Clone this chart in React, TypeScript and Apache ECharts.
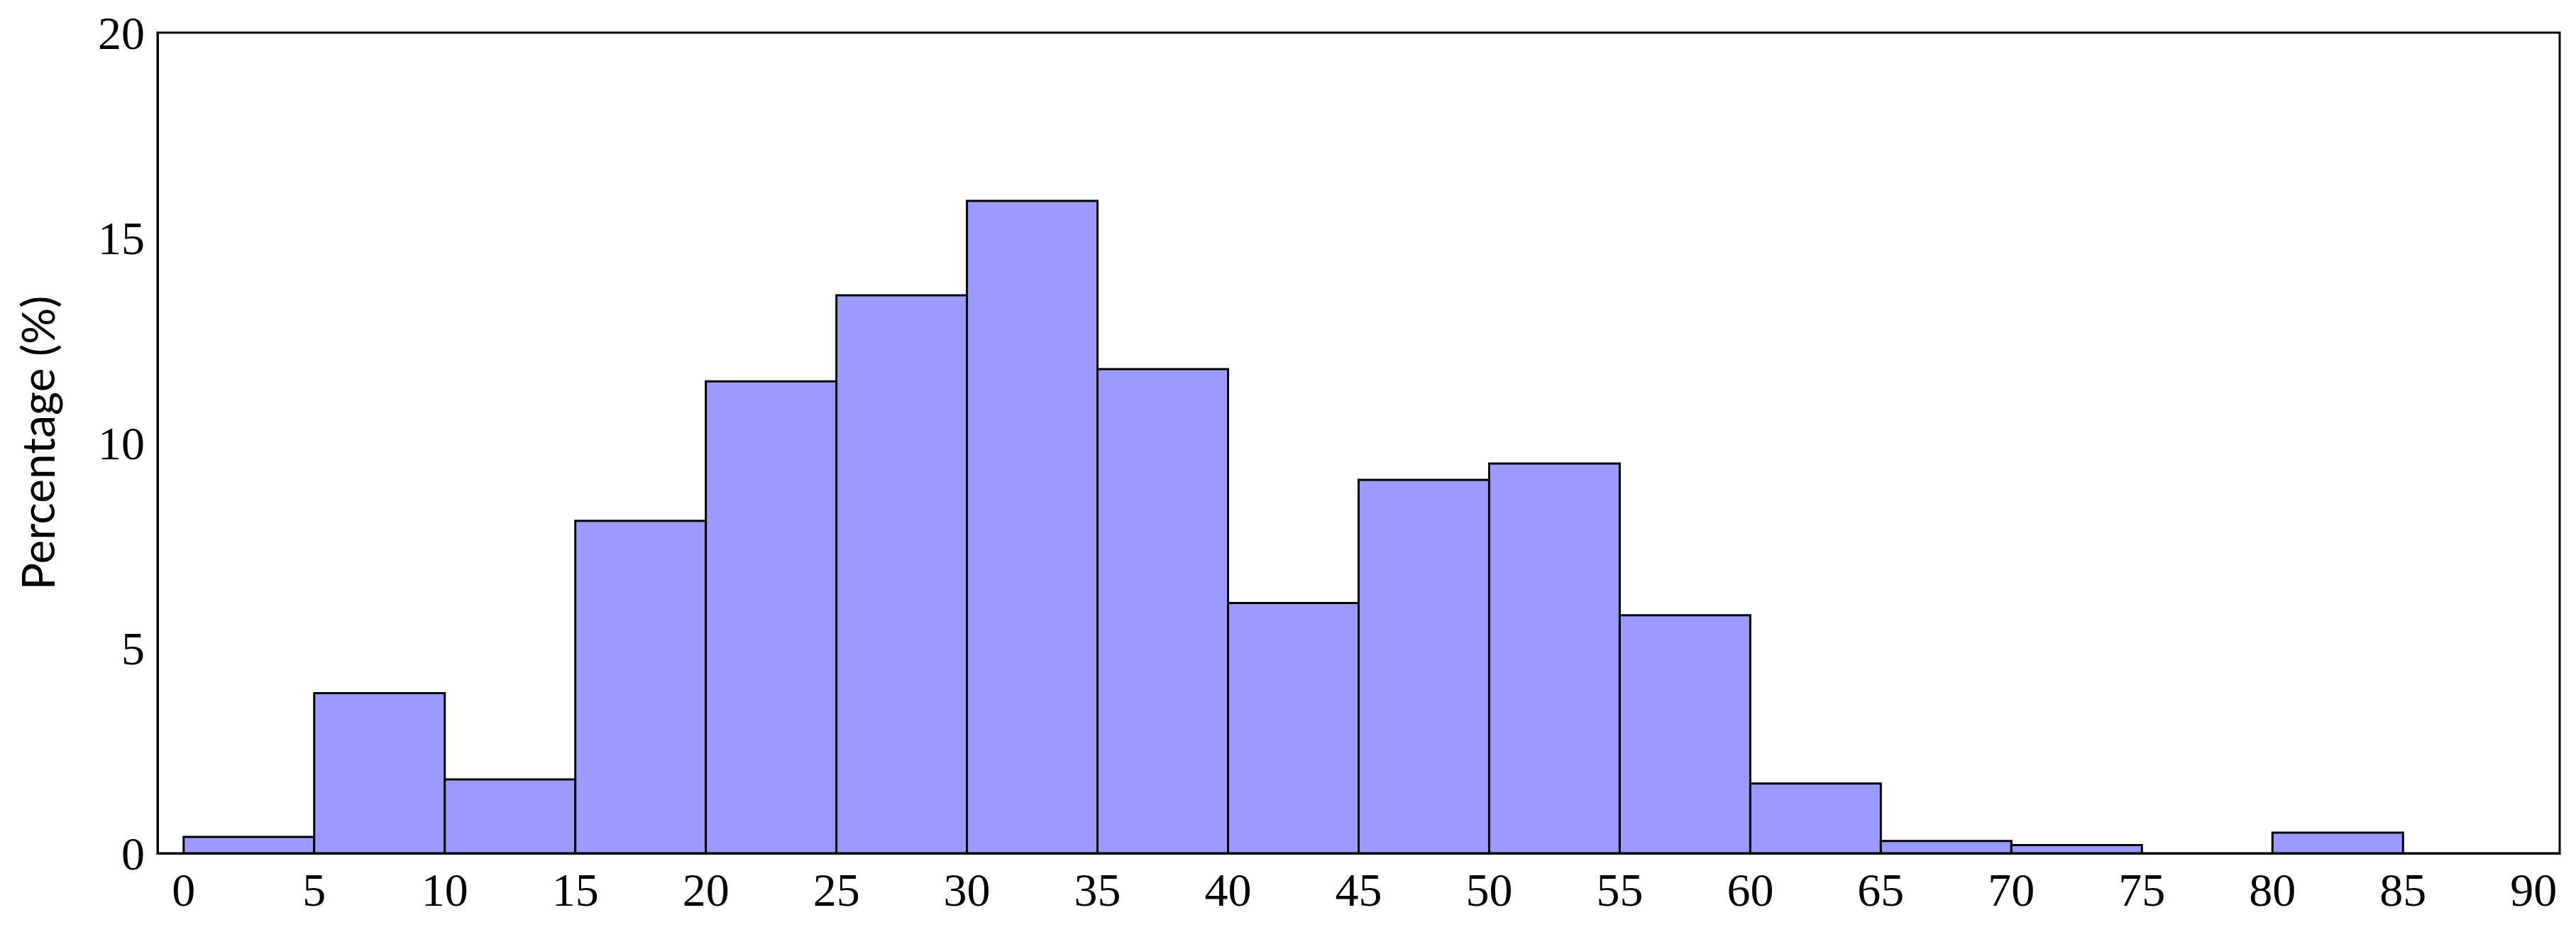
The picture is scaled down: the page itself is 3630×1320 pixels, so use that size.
import React, { useEffect, useRef } from "react";
import * as echarts from "echarts";

const binStarts: number[] = [0, 5, 10, 15, 20, 25, 30, 35, 40, 45, 50, 55, 60, 65, 70, 75, 80, 85];
const binWidth = 5;
const percentages: number[] = [0.4, 3.9, 1.8, 8.1, 11.5, 13.6, 15.9, 11.8, 6.1, 9.1, 9.5, 5.8, 1.7, 0.3, 0.2, 0, 0.5, 0];
const xTickLabels: number[] = [0, 5, 10, 15, 20, 25, 30, 35, 40, 45, 50, 55, 60, 65, 70, 75, 80, 85, 90];
const yAxisName = "Percentage (%)";

export default function App() {
  const ref = useRef<HTMLDivElement>(null);
  useEffect(() => {
    document.body.style.margin = "0";
    if (!ref.current) return;
    const chart = echarts.init(ref.current, null, { renderer: "svg" });
    const data = binStarts.map((s, i) => [s, s + binWidth, percentages[i]]);
    chart.setOption({
      animation: false,
      backgroundColor: "#ffffff",
      grid: {
        left: 222,
        right: 23,
        top: 46,
        bottom: 118,
        outerBoundsMode: "none",
        containLabel: false,
        show: true,
        borderColor: "#000000",
        borderWidth: 3,
        backgroundColor: "transparent",
      },
      xAxis: {
        type: "value",
        min: -1,
        max: 91,
        splitLine: { show: false },
        axisLine: { show: true, onZero: false, lineStyle: { color: "#000", width: 3 } },
        axisTick: { show: false },
        axisLabel: {
          customValues: xTickLabels,
          color: "#000",
          fontFamily: "Liberation Serif",
          fontSize: 66,
          margin: 18,
        },
      },
      yAxis: {
        type: "value",
        min: 0,
        max: 20,
        interval: 5,
        name: yAxisName,
        nameLocation: "middle",
        nameGap: 138,
        nameTextStyle: { color: "#000", fontFamily: "Lato", fontSize: 64 },
        splitLine: { show: false },
        axisLine: { show: true, onZero: false, lineStyle: { color: "#000", width: 3 } },
        axisTick: { show: false },
        axisLabel: {
          color: "#000",
          fontFamily: "Liberation Serif",
          fontSize: 66,
          margin: 18,
        },
      },
      series: [
        {
          type: "custom",
          data,
          encode: { x: [0, 1], y: 2 },
          renderItem: (params: any, api: any) => {
            const v = api.value(2);
            if (!v) return null;
            const p0 = api.coord([api.value(0), 0]);
            const p1 = api.coord([api.value(1), v]);
            return {
              type: "rect",
              shape: { x: p0[0], y: p1[1], width: p1[0] - p0[0], height: p0[1] - p1[1] },
              style: { fill: "#9b9bff", stroke: "#000000", lineWidth: 3 },
            };
          },
        },
      ],
    });
    return () => chart.dispose();
  }, []);
  return <div ref={ref} style={{ width: 3630, height: 1320 }} />;
}
